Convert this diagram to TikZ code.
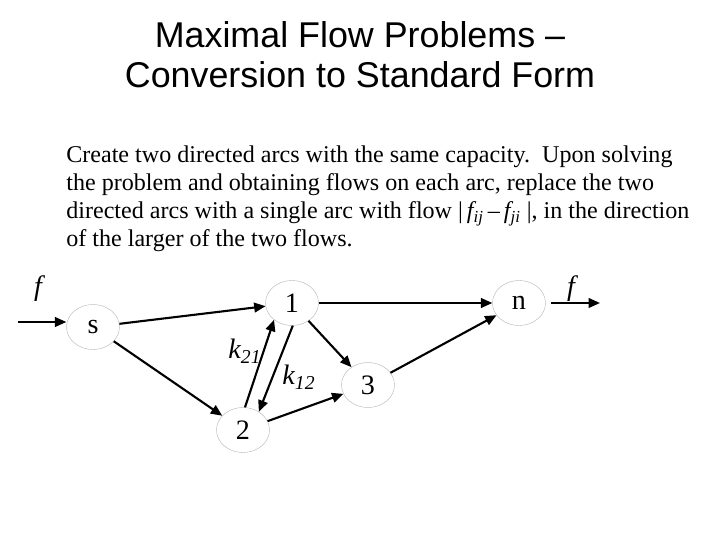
\documentclass[tikz,border=0pt]{standalone}
\usepackage{fontspec}
\setmainfont{Liberation Serif}
\newfontfamily\titlefont[Ligatures=TeX]{Liberation Sans}
\usepackage{tikz}
\usetikzlibrary{shapes.geometric, arrows.meta, positioning}
\definecolor{nodeline}{RGB}{170,170,170}
\definecolor{arcblack}{RGB}{0,0,0}
\tikzset{
  netnode/.style={ellipse, draw=nodeline, line width=0.2pt, minimum width=1.06cm,
    minimum height=0.9cm, inner sep=0pt, font=\fontsize{16}{18}\selectfont},
  arc/.style={-{Triangle[length=6.5pt, width=5.5pt]}, line width=1.2pt, color=arcblack},
  arclabel/.style={font=\fontsize{16}{18}\selectfont\itshape},
}

\begin{document}
\begin{tikzpicture}
  \useasboundingbox (0,0) rectangle (14.4,-10.8);
  % title and text
  \node[anchor=base, font=\titlefont\fontsize{20.4}{24}\selectfont] (title1) at (7.2,-0.96)
    {Maximal Flow Problems --};
  \node[anchor=base, font=\titlefont\fontsize{20.4}{24}\selectfont] (title2) at (7.2,-1.76)
    {Conversion to Standard Form};
  \node[anchor=north west, align=left, inner sep=0pt,
        font=\fontsize{13.7}{16.1}\selectfont] (body) at (1.32,-2.9)
    {Create two directed arcs with the same capacity.\ \ Upon solving\\
     the problem and obtaining flows on each arc, replace the two\\
     directed arcs with a single arc with flow \textbar\,\textit{f\textsubscript{ij}}\,--\,\textit{f\textsubscript{ji}} \textbar, in the direction\\
     of the larger of the two flows.};
  % network
  \node[netnode] (s) at (1.86,-6.54) {s};
  \node[netnode] (n1) at (5.84,-6.06) {1};
  \node[netnode] (n2) at (4.86,-8.6) {2};
  \node[netnode] (n3) at (7.36,-7.7) {3};
  \node[netnode] (nn) at (10.38,-6.06) {n};
  \coordinate (fin) at (0.36,-6.44);
  \coordinate (fout) at (12.0,-6.06);
  \draw[arc] (fin) -- (fin -| s.west);
  \draw[arc, shorten <=3pt] (nn) -- (fout);
  \node[arclabel] (fleft) at (0.76,-5.78) {f};
  \node[arclabel] (fright) at (11.42,-5.78) {f};
  \draw[arc] (s) -- (n1);
  \draw[arc] (s) -- (n2);
  \draw[arc] (n1) -- (nn);
  \draw[arc] (n1) -- (n3);
  \draw[arc] (n2) -- (n3);
  \draw[arc] (n3) -- (nn);
  \draw[arc] (n2.85) -- (n1.-137);
  \draw[arc] (n1.-88) -- (n2.49);
  \node[arclabel] (k21) at (4.9,-7.02) {k\textsubscript{\textit{21}}};
  \node[arclabel] (k12) at (5.98,-7.54) {k\textsubscript{\textit{12}}};
\end{tikzpicture}
\end{document}
